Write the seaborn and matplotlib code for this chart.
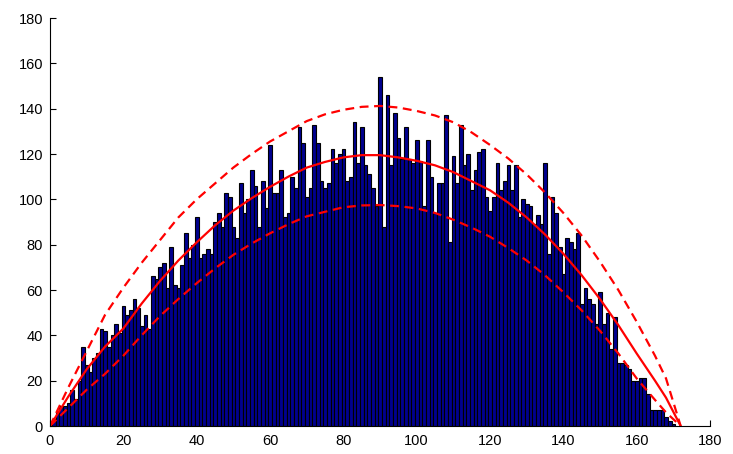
import numpy as np
import pandas as pd
import matplotlib
matplotlib.use("Agg")
import matplotlib.pyplot as plt
import seaborn as sns

# Histogram bin centres (1..170) and counts
bin_centers = list(range(1, 171))
counts = [
    3, 6, 9, 9, 10, 16, 12, 20, 35, 27, 24, 30, 32, 43, 42,
    35, 40, 45, 41, 53, 49, 51, 56, 52, 44, 49, 43, 66, 65, 70,
    72, 61, 79, 62, 61, 71, 85, 74, 80, 92, 74, 76, 78, 76, 90,
    94, 88, 103, 101, 88, 83, 107, 94, 100, 113, 106, 88, 108, 96, 124,
    103, 103, 113, 92, 94, 110, 105, 132, 125, 101, 105, 133, 125, 108, 105,
    107,
    122, 116, 120, 122, 108, 110, 134, 116, 132, 115, 111, 105, 97, 154, 88, 146,
    115, 138, 127, 118, 132, 118, 116, 126, 117, 97, 126, 110, 94, 107, 107,
    137, 81, 119, 107, 133, 115, 120, 104, 113, 121, 122, 101, 95, 101, 116,
    104, 108, 115, 104, 115, 92, 100, 98, 97, 89, 93, 89, 116, 76, 101,
    94, 79, 67, 83, 81, 78, 85, 54, 61, 56, 54, 45, 59, 45, 50,
    34, 48, 28, 28, 27, 25, 20, 20, 21, 21, 14, 7, 7, 7, 7,
    4, 2, 1,
]

# Curves
curve_x = [0, 5, 10, 15, 20, 25, 30, 35, 40, 45, 50, 55, 60, 65, 70, 75, 80, 85,
           90, 95, 100, 105, 110, 115, 120, 125, 130, 135, 140, 145, 150, 155,
           160, 165, 168, 172]
mean_curve = [0, 13, 25, 35, 43, 54, 64, 73, 81, 88.5, 95, 100.5, 105.5, 110, 114,
              116.5, 118.5, 119.5, 119.5, 118.5, 117, 115, 112, 108, 104, 98.5,
              92, 84.5, 76, 66.5, 56, 44.5, 32, 20, 12.5, 0]
upper_curve = [0, 17, 33, 49, 61, 72, 82, 92, 100, 107, 114, 120, 125.5, 130,
               134.5, 137.5, 139.5, 140.8, 141.2, 140.5, 139, 137, 134, 129.5,
               124, 118, 111, 103, 94, 84, 72.5, 60, 46, 31, 21, 0]
lower_curve = [0, 8, 16, 23, 31, 40, 48.5, 56, 63, 69.5, 75.5, 80.5, 85, 89,
               92.5, 94.5, 96.5, 97.3, 97.5, 97, 96, 94, 91, 87.5, 83.5, 78.5,
               73, 66.5, 59, 51, 42, 32, 21, 11.5, 6, 0]

x_ticks = [0, 20, 40, 60, 80, 100, 120, 140, 160, 180]
y_ticks = [0, 20, 40, 60, 80, 100, 120, 140, 160, 180]

sns.set_style("white")
plt.rcParams["font.family"] = ["Liberation Sans", "DejaVu Sans"]

fig = plt.figure(figsize=(7.33, 4.54), dpi=100)
ax = fig.add_axes([50 / 733, 1 - 426 / 454, 660 / 733, 408 / 454])

hist_df = pd.DataFrame({"x": bin_centers, "w": counts})
sns.histplot(data=hist_df, x="x", weights="w", binwidth=1, binrange=(0.5, 170.5),
             color="#00008f", edgecolor="black", linewidth=0.8, alpha=1.0, ax=ax)

curve_df = pd.DataFrame({"x": curve_x, "mean": mean_curve,
                         "upper": upper_curve, "lower": lower_curve})
sns.lineplot(data=curve_df, x="x", y="mean", color="red", linewidth=1.6, ax=ax)
sns.lineplot(data=curve_df, x="x", y="upper", color="red", linewidth=1.6,
             ax=ax).lines[-1].set_dashes([4, 2.5])
sns.lineplot(data=curve_df, x="x", y="lower", color="red", linewidth=1.6,
             ax=ax).lines[-1].set_dashes([4, 2.5])

ax.set_xlim(0, 180)
ax.set_ylim(0, 180)
ax.set_xticks(x_ticks)
ax.set_yticks(y_ticks)
ax.set_xlabel("")
ax.set_ylabel("")
for s in ["top", "right"]:
    ax.spines[s].set_visible(False)
for s in ["left", "bottom"]:
    ax.spines[s].set_color("black")
    ax.spines[s].set_linewidth(0.8)
ax.tick_params(direction="in", length=4, width=0.8, labelsize=10.5,
               colors="black", left=True, bottom=True)
ax.tick_params(axis="x", pad=6)
ax.tick_params(axis="y", pad=5)
ax.grid(False)

fig.savefig("out.png", dpi=100)
